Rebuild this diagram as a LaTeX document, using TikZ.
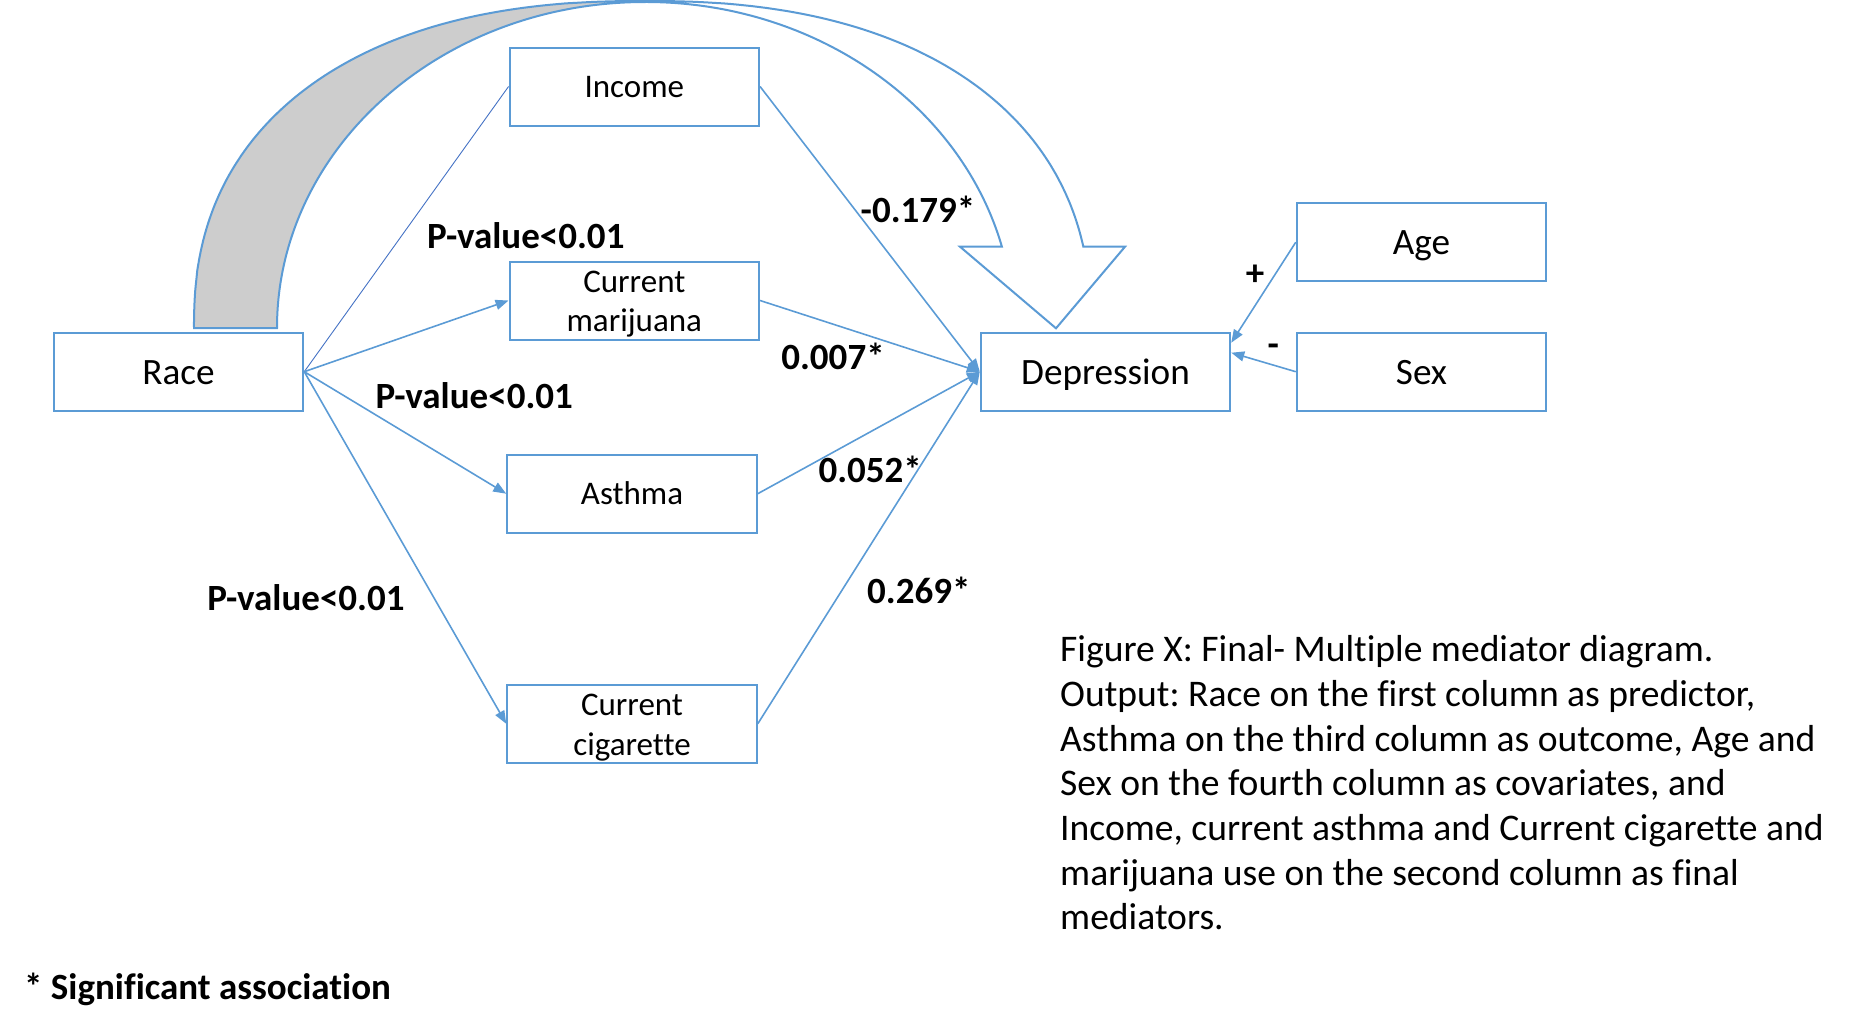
\documentclass[tikz,border=0pt]{standalone}
\usepackage{fontspec}
\setmainfont{Carlito}[Ligatures=NoCommon]
\usetikzlibrary{arrows.meta}
\definecolor{pblue}{RGB}{91,155,213}
\definecolor{pgrayfill}{RGB}{205,205,205}
\definecolor{pthin}{RGB}{68,114,196}
\newcommand{\fbig}{\fontsize{37.2pt}{44.7pt}\selectfont}
\newcommand{\fcaption}{\fontsize{37.6pt}{44.7pt}\selectfont}
\newcommand{\fmid}{\fontsize{33pt}{39.5pt}\selectfont}
\newcommand{\fbold}{\fontsize{37pt}{44pt}\selectfont\bfseries}
\newcommand{\topstrut}{\rule{0pt}{29pt}}
\begin{document}
\frenchspacing
\begin{tikzpicture}[x=1pt,y=-1pt,
  box/.style={draw=pblue,line width=2pt,fill=white,minimum width=249.5pt,minimum height=78pt,inner sep=0pt,align=center},
  bigbox/.style={box,font=\fbig,text height=24.6pt,text depth=0pt},
  midbox/.style={box,font=\fmid,text height=21.5pt,text depth=0pt},
  twobox/.style={box,font=\fmid},
  conn/.style={draw=pblue,line width=1.6pt,-{Triangle[length=13pt,width=10pt]}},
  thinconn/.style={draw=pthin,line width=0.9pt},
  lab/.style={font=\fbold,inner sep=0pt},
  captext/.style={font=\fcaption,inner sep=0pt,anchor=base west},
  curvearrow/.style={draw=pblue,line width=2pt,line join=miter}
]
\useasboundingbox (0,0) rectangle (1859,1034);

% curved block arrow (gray underside crescent)
\filldraw[curvearrow,fill=pgrayfill] (194,328)
  -- plot[domain=179.5:90.5,samples=90,variable=\t] ({645-451*(-cos(\t))^0.862},{328-327*(sin(\t))^0.862})
  -- (645,1) -- (645,2) arc[start angle=90,end angle=180,x radius=368pt,y radius=326pt] -- cycle;
% front band with arrowhead
\filldraw[curvearrow,fill=white] (645,1)
  -- plot[domain=89.5:11.5,samples=90,variable=\t] ({645+446*(cos(\t))^0.862},{328-327*(sin(\t))^0.862})
  -- (1083.3,246.7) -- (1125,246.7) -- (1056,328.3) -- (960,246.7) -- (1001.9,246.7)
  arc[start angle=14.44,end angle=90,x radius=368pt,y radius=326pt] -- cycle;

% boxes
\node[bigbox] (race) at (178.5,371.7) {Race};
\node[midbox] (income) at (634.3,86.5) {Income};
\node[twobox] (mari) at (634.3,300.5) {\topstrut Current\\marijuana};
\node[midbox] (asthma) at (632,493.7) {Asthma};
\node[twobox] (cig) at (632,723.8) {\topstrut Current\\cigarette};
\node[bigbox] (dep) at (1105.5,371.7) {Depression};
\node[bigbox] (age) at (1421.5,242.2) {Age};
\node[bigbox] (sex) at (1421.5,371.7) {Sex};

% connectors
\draw[thinconn] (race.east) -- (income.west);
\draw[conn] (race.east) -- (mari.west);
\draw[conn] (race.east) -- (asthma.west);
\draw[conn] (race.east) -- (cig.west);
\draw[conn] (income.east) -- (dep.west);
\draw[conn] (mari.east) -- (dep.west);
\draw[conn] (asthma.east) -- (dep.west);
\draw[conn] (cig.east) -- (dep.west);
\draw[conn] (age.west) -- ([yshift=29pt]dep.east);
\draw[conn] (sex.west) -- ([yshift=19pt]dep.east);

% labels
\node[lab] (p1) at (525.8,235.8) {P-value<0.01};
\node[lab] (p2) at (474.2,395.8) {P-value<0.01};
\node[lab] (p3) at (305.9,597.5) {P-value<0.01};
\node[lab] (c1) at (918,209) {-0.179*};
\node[lab] (c2) at (833,356.7) {0.007*};
\node[lab] (c3) at (870.2,469.5) {0.052*};
\node[lab] (c4) at (918.8,590.4) {0.269*};
\node[lab] (plus) at (1255,275) {+};
\node[lab] (minus) at (1273.3,350.5) {-};
\node[lab,anchor=base west] (sig) at (24,999) {* Significant association};

% caption
\node[captext] (cap1) at (1060,661.7) {Figure X: Final- Multiple mediator diagram.};
\node[captext] (cap2) at (1060,706.4) {Output: Race on the first column as predictor,};
\node[captext] (cap3) at (1060,751.1) {Asthma on the third column as outcome, Age and};
\node[captext] (cap4) at (1060,795.8) {Sex on the fourth column as covariates, and};
\node[captext] (cap5) at (1060,840.5) {Income, current asthma and Current cigarette and};
\node[captext] (cap6) at (1060,885.2) {marijuana use on the second column as final};
\node[captext] (cap7) at (1060,929.9) {mediators.};
\end{tikzpicture}
\end{document}
